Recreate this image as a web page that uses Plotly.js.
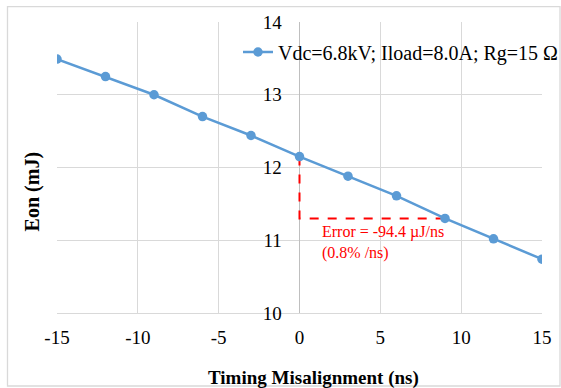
<!DOCTYPE html>
<html>
<head>
<meta charset="utf-8">
<script src="https://cdn.plot.ly/plotly-3.0.1.min.js"></script>
<style>html,body{margin:0;padding:0;background:#fff;}#chart{width:561px;height:388px;}</style>
</head>
<body>
<div id="chart"></div>
<script>
// Data
var misalignment = [-15, -12, -9, -6, -3, 0, 3, 6, 9, 12, 15];
var eon = [13.49, 13.25, 13.0, 12.70, 12.44, 12.15, 11.88, 11.61, 11.30, 11.02, 10.74];
var seriesName = "Vdc=6.8kV; Iload=8.0A; Rg=15 Ω";
var xTicks = [-15, -10, -5, 0, 5, 10, 15];
var yTicks = [10, 11, 12, 13, 14];
var errorText = "Error = -94.4 µJ/ns<br>(0.8% /ns)";
var refStartIdx = 5, refEndIdx = 8;

var serif = "Liberation Serif";

var errTrace = {
  x: [misalignment[refStartIdx], misalignment[refStartIdx], misalignment[refEndIdx]],
  y: [eon[refStartIdx], eon[refEndIdx], eon[refEndIdx]],
  mode: "lines",
  line: {color: "#ff0000", width: 2, dash: "dash"},
  showlegend: false,
  hoverinfo: "skip"
};
var mainTrace = {
  x: misalignment, y: eon,
  mode: "lines+markers",
  name: seriesName,
  line: {color: "#5b9bd5", width: 2.5},
  marker: {color: "#5b9bd5", size: 9.5}
};

var W = 485, H = 291, L = 57, T = 22;
function px(x){ return (x - L) / W; }
function py(y){ return (T + H - y) / H; }

var layout = {
  width: 561, height: 388,
  margin: {l: L, r: 561 - L - W, t: T, b: 388 - T - H, autoexpand: false},
  paper_bgcolor: "#ffffff", plot_bgcolor: "#ffffff",
  font: {family: serif, color: "#000000", size: 19},
  showlegend: true,
  legend: {
    x: px(238), y: py(52), xanchor: "left", yanchor: "middle",
    bgcolor: "rgba(0,0,0,0)", borderwidth: 0,
    font: {family: serif, size: 20, color: "#000"}
  },
  xaxis: {
    range: [-15, 15], tickvals: xTicks, ticktext: xTicks.map(String),
    showgrid: true, gridcolor: "#d9d9d9", gridwidth: 1.3,
    zeroline: true, zerolinecolor: "#bfbfbf", zerolinewidth: 1.5,
    showline: true, linecolor: "#d9d9d9", linewidth: 1.3,
    ticks: "outside", ticklen: 7, tickcolor: "rgba(0,0,0,0)",
    tickfont: {family: serif, size: 19, color: "#000"},
    fixedrange: true
  },
  yaxis: {
    range: [10, 14], tickvals: yTicks, ticktext: yTicks.map(String),
    anchor: "free", position: 0.5,
    showgrid: true, gridcolor: "#d9d9d9", gridwidth: 1.3,
    zeroline: false, showline: false,
    ticks: "outside", ticklen: 14, tickcolor: "rgba(0,0,0,0)",
    tickfont: {family: serif, size: 19, color: "#000"},
    fixedrange: true
  },
  shapes: [{
    type: "rect", xref: "paper", yref: "paper",
    x0: px(7.5), x1: px(560), y0: py(386), y1: py(6.7),
    line: {color: "#d9d9d9", width: 1.3}, fillcolor: "rgba(0,0,0,0)", layer: "below"
  }],
  annotations: [
    {text: errorText, xref: "x", yref: "y", x: 1.25, y: 11.27,
     xanchor: "left", yanchor: "top", align: "left", showarrow: false,
     font: {family: serif, size: 16, color: "#ff0000"}},
    {text: "<b>Eon (mJ)</b>", xref: "paper", yref: "paper", x: px(32.7), y: py(191.7),
     xanchor: "center", yanchor: "middle", textangle: -90, showarrow: false,
     font: {family: serif, size: 20, color: "#000"}},
    {text: "<b>Timing Misalignment (ns)</b>", xref: "paper", yref: "paper", x: px(313), y: py(378),
     xanchor: "center", yanchor: "middle", showarrow: false,
     font: {family: serif, size: 19, color: "#000"}}
  ]
};

Plotly.newPlot("chart", [errTrace, mainTrace], layout, {displayModeBar: false, staticPlot: true});
</script>
</body>
</html>
